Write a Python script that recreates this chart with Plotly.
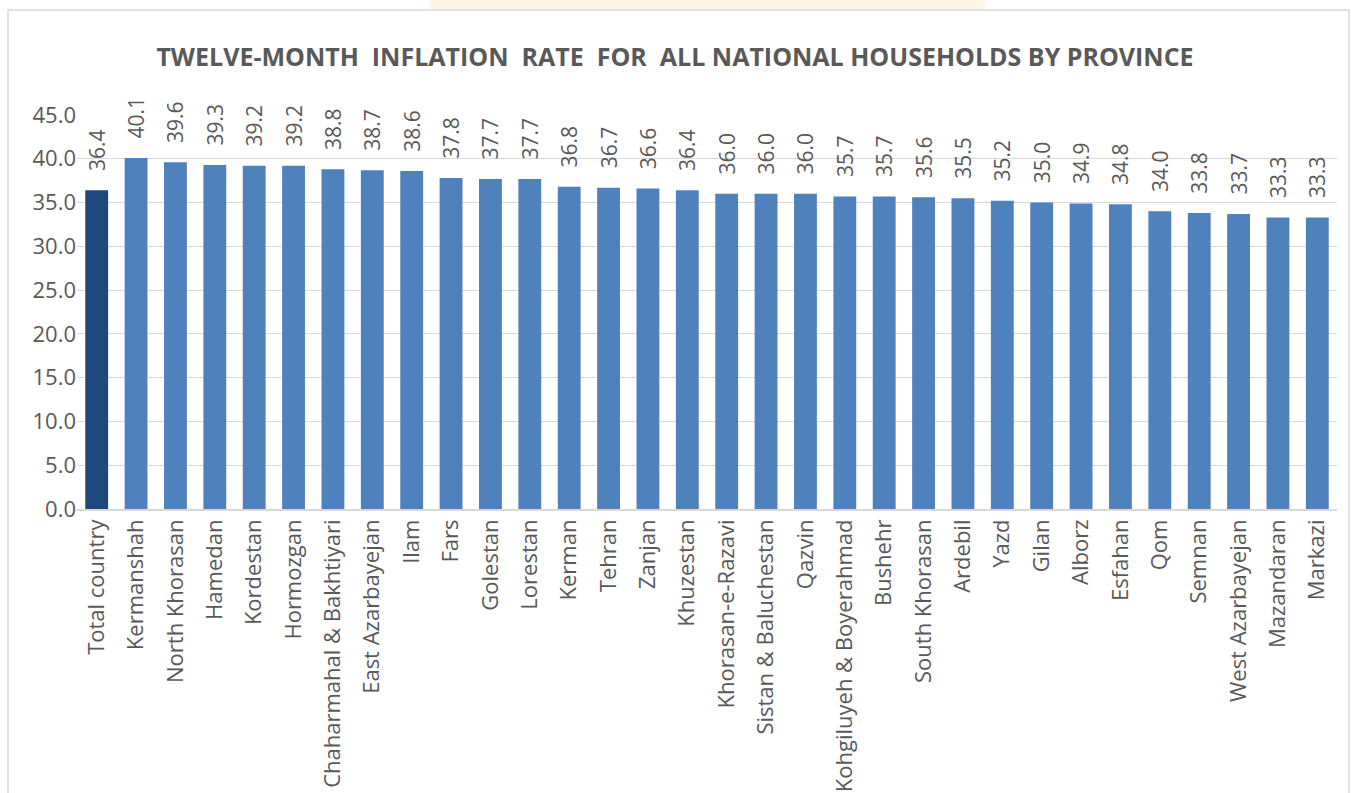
import plotly.graph_objects as go

categories = ["Total country", "Kermanshah", "North Khorasan", "Hamedan", "Kordestan", "Hormozgan",
              "Chaharmahal & Bakhtiyari", "East Azarbayejan", "Ilam", "Fars", "Golestan", "Lorestan",
              "Kerman", "Tehran", "Zanjan", "Khuzestan", "Khorasan-e-Razavi", "Sistan & Baluchestan",
              "Qazvin", "Kohgiluyeh & Boyerahmad", "Bushehr", "South Khorasan", "Ardebil", "Yazd",
              "Gilan", "Alborz", "Esfahan", "Qom", "Semnan", "West Azarbayejan", "Mazandaran", "Markazi"]
values = [36.4, 40.1, 39.6, 39.3, 39.2, 39.2, 38.8, 38.7, 38.6, 37.8, 37.7, 37.7, 36.8, 36.7, 36.6, 36.4,
          36.0, 36.0, 36.0, 35.7, 35.7, 35.6, 35.5, 35.2, 35.0, 34.9, 34.8, 34.0, 33.8, 33.7, 33.3, 33.3]
y_ticks = [0, 5, 10, 15, 20, 25, 30, 35, 40, 45]

colors = ["#1F497D"] + ["#4F81BD"] * (len(categories) - 1)
FONT = "Open Sans"
GRAY = "#595959"

W, H = 1351, 793
ml, mr, mt, mb = 77, 14, 115, 284
pw, ph = W - ml - mr, H - mt - mb


def px_x(x):
    return (x - ml) / pw


def px_y(y):
    return (H - mb - y) / ph


fig = go.Figure(go.Bar(
    x=categories, y=values,
    marker=dict(color=colors, line=dict(width=0)),
    texttemplate="\u00a0\u00a0\u00a0%{y:.1f}",
    textposition="outside", textangle=-90,
    constraintext="none",
    textfont=dict(family=FONT, size=21, color=GRAY),
    cliponaxis=False,
))

fig.update_layout(
    width=W, height=H,
    margin=dict(l=ml, r=mr, t=mt, b=mb, autoexpand=False),
    paper_bgcolor="white", plot_bgcolor="white",
    bargap=0.42,
    showlegend=False,
    title=dict(
        text="<b>TWELVE-MONTH\u00a0 INFLATION\u00a0 RATE\u00a0 FOR\u00a0 ALL NATIONAL HOUSEHOLDS BY PROVINCE</b>",
        x=px_x(675), xanchor="center", xref="paper",
        y=1 - 57 / H, yanchor="middle",
        font=dict(family=FONT, size=25, color=GRAY),
    ),
    xaxis=dict(
        automargin=False,
        tickangle=-90, tickfont=dict(family=FONT, size=22, color=GRAY),
        showline=True, linecolor="#D9D9D9", linewidth=1.5, ticks="",
        showgrid=False,
    ),
    yaxis=dict(
        automargin=False,
        range=[0, 45], tickvals=y_ticks, tickformat=".1f",
        tickfont=dict(family=FONT, size=22, color=GRAY),
        showgrid=True, gridcolor="#D9D9D9", gridwidth=1,
        zeroline=False, showline=False, ticks="",
    ),
    shapes=[
        dict(type="rect", xref="paper", yref="paper",
             x0=px_x(430), x1=px_x(985), y0=px_y(0), y1=px_y(9),
             fillcolor="#FEF7E8", line=dict(width=0), layer="below"),
        dict(type="rect", xref="paper", yref="paper",
             x0=px_x(8), x1=px_x(1349), y0=px_y(800), y1=px_y(10),
             fillcolor="rgba(0,0,0,0)", line=dict(color="#D9D9D9", width=1.5)),
    ],
)

fig.write_html("out.html", config={"displayModeBar": False},
               post_script="document.body.style.margin='0';")
